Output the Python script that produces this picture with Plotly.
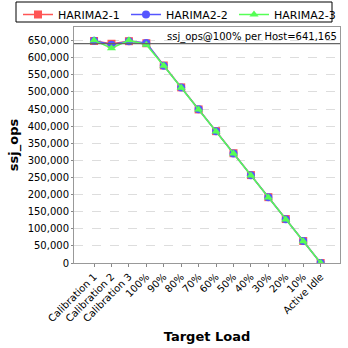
import plotly.graph_objects as go

# Target load levels on the x axis
categories = ["Calibration 1", "Calibration 2", "Calibration 3", "100%", "90%", "80%",
              "70%", "60%", "50%", "40%", "30%", "20%", "10%", "Active Idle"]

# ssj_ops measured per host
harima2_1 = [649000, 641000, 648500, 642500, 577500, 513500, 449000, 385500, 321000,
             257000, 192500, 128500, 64200, 0]
harima2_2 = [649500, 638000, 648000, 643000, 577000, 513000, 449500, 385000, 320500,
             256500, 192000, 128000, 64000, 0]
harima2_3 = [651000, 628000, 651000, 638000, 576500, 512500, 448500, 384500, 320000,
             256000, 191500, 127500, 63800, 0]

per_host_100 = 641165

y_ticks = list(range(0, 650001, 50000))
y_tick_text = [f"{v:,}" for v in y_ticks]

series = [
    ("HARIMA2-1", harima2_1, "#FF5555", "square", "legend"),
    ("HARIMA2-2", harima2_2, "#5555FF", "circle", "legend2"),
    ("HARIMA2-3", harima2_3, "#55FF55", "triangle-up", "legend3"),
]

W, H = 348, 348
ML, MR, MT, MB = 74, 8, 27, 85
plot_w, plot_h = W - ML - MR, H - MT - MB

fig = go.Figure()
for name, vals, color, symbol, leg in series:
    fig.add_trace(go.Scatter(
        x=list(range(len(categories))), y=vals, name=name, mode="lines+markers",
        line=dict(color=color, width=1.5),
        marker=dict(symbol=symbol, size=8, color=color),
        legend=leg,
    ))

# Reference line at the 100% per-host value
fig.add_shape(type="line", xref="paper", x0=0, x1=1, yref="y",
              y0=per_host_100, y1=per_host_100,
              line=dict(color="#666666", width=1.2))
fig.add_annotation(xref="paper", x=0.995, yref="y", y=per_host_100,
                   text=f"ssj_ops@100% per Host={per_host_100:,}",
                   showarrow=False, xanchor="right", yanchor="bottom", yshift=-1,
                   font=dict(family="DejaVu Sans", size=10, color="#000000"))

# Legend row: one legend per host, sharing a single outline box
legend_font = dict(family="DejaVu Sans", size=11, color="#000000")
def legend_at(px):
    return dict(orientation="h", x=px / W, xref="container", xanchor="left",
                y=1.0, yref="container", yanchor="top",
                bgcolor="rgba(0,0,0,0)", borderwidth=0,
                font=legend_font, itemwidth=30)

box_left, box_right, box_top, box_bottom = 16, 332, 2, 22
fig.add_shape(type="rect", xref="paper", yref="paper",
              x0=(box_left - ML) / plot_w, x1=(box_right - ML) / plot_w,
              y0=(H - MB - box_bottom) / plot_h, y1=(H - MB - box_top) / plot_h,
              line=dict(color="#000000", width=1), fillcolor="rgba(0,0,0,0)")

fig.update_layout(
    width=W, height=H,
    margin=dict(l=ML, r=MR, t=MT, b=MB, autoexpand=False),
    paper_bgcolor="white", plot_bgcolor="white",
    font=dict(family="DejaVu Sans", size=10, color="#000000"),
    showlegend=True,
    legend=legend_at(18),
    legend2=legend_at(126),
    legend3=legend_at(234),
    xaxis=dict(
        range=[-1.15, 14.11],
        tickmode="array", tickvals=list(range(len(categories))), ticktext=categories,
        tickangle=-45, ticks="outside", ticklen=3, tickcolor="#888888",
        showgrid=False, zeroline=False,
        showline=True, linecolor="#999999", mirror=True,
        title=dict(text="<b>Target Load</b>", font=dict(size=13), standoff=8),
        tickfont=dict(size=10),
    ),
    yaxis=dict(
        range=[0, 690000],
        tickmode="array", tickvals=y_ticks, ticktext=y_tick_text,
        ticks="outside", ticklen=2, tickcolor="#888888",
        showgrid=True, gridcolor="#DDDDDD", griddash="dash", gridwidth=1,
        zeroline=False,
        showline=True, linecolor="#999999", mirror=True,
        title=dict(text="<b>ssj_ops</b>", font=dict(size=13), standoff=6),
        tickfont=dict(size=10),
    ),
)

fig.write_html("out.html")
